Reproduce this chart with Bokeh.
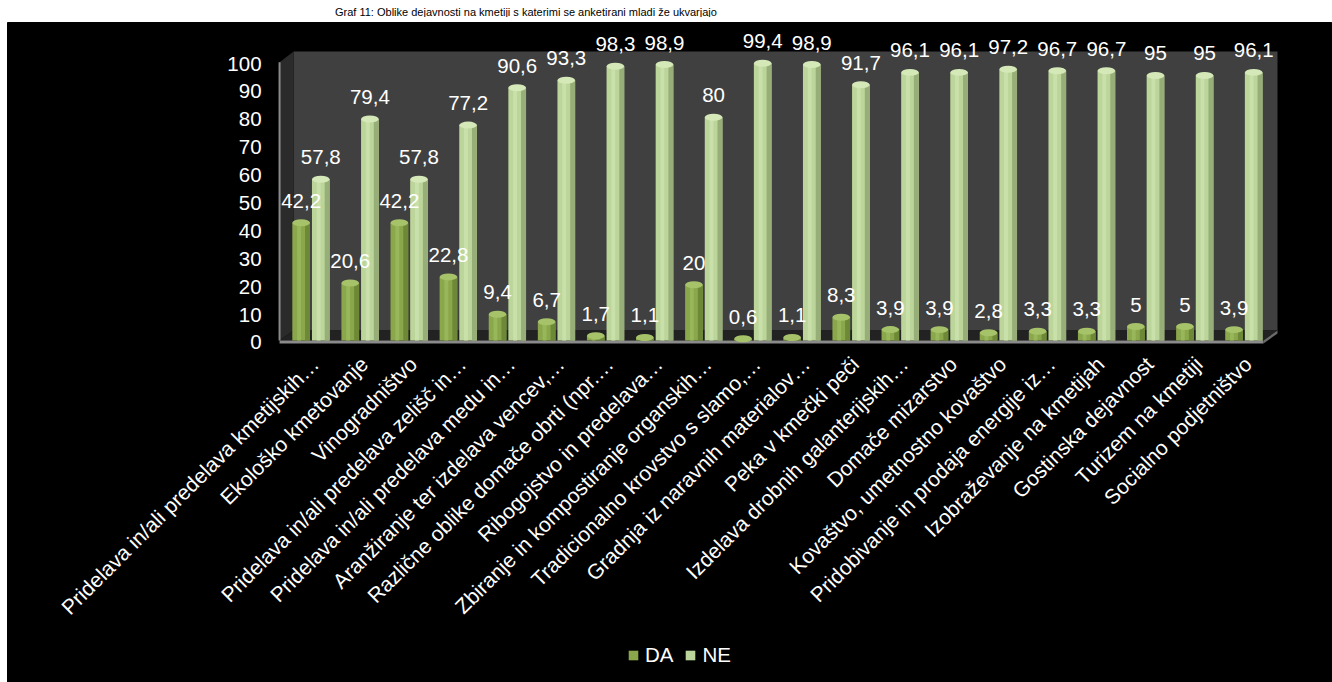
import numpy as np
from bokeh.plotting import figure
from bokeh.models import Legend, LegendItem, Div, Range1d, Spacer
from bokeh.layouts import column, row
from bokeh.embed import file_html
from bokeh.resources import INLINE
from bokeh.core.properties import value

# ---------------- data ----------------
title_text = "Graf 11: Oblike dejavnosti na kmetiji s katerimi se anketirani mladi že ukvarjajo"
categories = [
    "Pridelava in/ali predelava kmetijskih…",
    "Ekološko kmetovanje",
    "Vinogradništvo",
    "Pridelava in/ali predelava zelišč in…",
    "Pridelava in/ali predelava medu in…",
    "Aranžiranje ter izdelava vencev,…",
    "Različne oblike domače obrti (npr.…",
    "Ribogojstvo in predelava…",
    "Zbiranje in kompostiranje organskih…",
    "Tradicionalno krovstvo s slamo,…",
    "Gradnja iz naravnih materialov…",
    "Peka v kmečki peči",
    "Izdelava drobnih galanterijskih…",
    "Domače mizarstvo",
    "Kovaštvo, umetnostno kovaštvo",
    "Pridobivanje in prodaja energije iz…",
    "Izobraževanje na kmetijah",
    "Gostinska dejavnost",
    "Turizem na kmetiji",
    "Socialno podjetništvo",
]
da_values = [42.2, 20.6, 42.2, 22.8, 9.4, 6.7, 1.7, 1.1, 20, 0.6,
             1.1, 8.3, 3.9, 3.9, 2.8, 3.3, 3.3, 5, 5, 3.9]
ne_values = [57.8, 79.4, 57.8, 77.2, 90.6, 93.3, 98.3, 98.9, 80, 99.4,
             98.9, 91.7, 96.1, 96.1, 97.2, 96.7, 96.7, 95, 95, 96.1]
series_names = ["DA", "NE"]
y_ticks = [0, 10, 20, 30, 40, 50, 60, 70, 80, 90, 100]

# ---------------- helpers ----------------
FONT = "Liberation Sans"
FS = "20.5px"
x = np.arange(len(categories))
def fmt(v):
    return f"{v:g}".replace(".", ",")

# ---------------- figure ----------------
W, H = 1325, 662
p = figure(width=W, height=H, output_backend="svg", toolbar_location=None,
           x_axis_location=None, y_axis_location=None,
           x_range=Range1d(-6.181, 20.805), y_range=Range1d(-123.3, 113.98),
           min_border_left=0, min_border_right=0, min_border_top=0,
           min_border_bottom=0)
p.background_fill_color = "black"
p.border_fill_color = "black"
p.outline_line_color = "black"
p.grid.visible = False

# 3D walls (decoration)
xl, xr = -0.64, 19.40
dx, dy = 0.285, 3.6
wall_top = 103.6
p.quad(left=xl + dx, right=xr + dx, bottom=dy, top=wall_top,
       fill_color="#404040", line_color=None)
p.patch([xl, xl + dx, xl + dx, xl], [wall_top - 3.9, wall_top, dy, 0],
        fill_color="#2b2b2b", line_color=None)
p.patch([xl, xl + dx, xr + dx, xr], [0, dy, dy, 0],
        fill_color="#222222", line_color=None)
p.quad(left=xl, right=xr, bottom=-1.075, top=0, fill_color="#8a8a8a", line_color=None)
p.patch([xr, xr + dx, xr + dx, xr], [-1.075, dy - 1.075, dy, 0],
        fill_color="#6a6a6a", line_color=None)
p.segment(x0=[xl], y0=[0], x1=[xl], y1=[wall_top - 3.9], line_color="#8a8a8a", line_width=2)

# bars
off, bw = 0.2, 0.36
styles = {
    "DA": dict(main="#8aa84b", dark="#6d8836", light="#98b65a", cap="#a6c36a"),
    "NE": dict(main="#bcd59a", dark="#98ae78", light="#c9e0aa", cap="#d4e8b8"),
}
renderers = {}
series = (("DA", da_values, -1), ("NE", ne_values, 1))
for name, vals, sgn in series:
    st = styles[name]
    xc = x + sgn * off
    r = p.vbar(x=xc, top=vals, width=bw, bottom=0, fill_color=st["main"], line_color=None)
    p.vbar(x=xc + bw * 0.36, top=vals, width=bw * 0.28, bottom=0,
           fill_color=st["dark"], line_color=None)
    p.vbar(x=xc - bw * 0.12, top=vals, width=bw * 0.22, bottom=0,
           fill_color=st["light"], line_color=None)
    p.ellipse(x=xc, y=vals, width=bw, height=7, height_units="screen",
              fill_color=st["cap"], line_color=None)
    renderers[name] = r

# data labels (drawn on top of all bars)
for name, vals, sgn in series:
    xc = x + sgn * off
    p.text(x=xc, y=vals, text=[fmt(v) for v in vals], y_offset=-15,
           text_align="center", text_baseline="bottom", text_color="white",
           text_font=value(FONT), text_font_size=FS)

# category labels, rotated 45 degrees
p.text(x=x, y=[0] * len(x), text=categories, angle=np.pi / 4,
       x_offset=4, y_offset=20, text_align="right", text_baseline="middle",
       text_color="white", text_font=value(FONT), text_font_size="21px")

# value axis labels
p.text(x=[xl] * len(y_ticks), y=y_ticks, text=[str(t) for t in y_ticks],
       x_offset=-18, y_offset=2, text_align="right", text_baseline="middle",
       text_color="white", text_font=value(FONT), text_font_size=FS)

legend = Legend(items=[LegendItem(label=n, renderers=[renderers[n]]) for n in series_names],
                orientation="horizontal", location=(620, 17),
                background_fill_alpha=0, border_line_color=None,
                label_text_color="white", label_text_font=FONT,
                label_text_font_size=FS, glyph_width=12, glyph_height=12,
                padding=0, margin=0, spacing=11, label_standoff=6)
p.add_layout(legend, "center")

title = Div(text=f'<div style="position:relative; top:-1px; left:330px; white-space:nowrap; '
                 f'font-family:\'Liberation Sans\'; font-size:11px; line-height:12px; color:black;">'
                 f'{title_text}</div>',
            width=W + 7, height=12, styles={"overflow": "hidden"})

layout = column(title, row(Spacer(width=7, height=H), p, spacing=0), spacing=0)
open("out.html", "w").write(file_html(layout, INLINE))
